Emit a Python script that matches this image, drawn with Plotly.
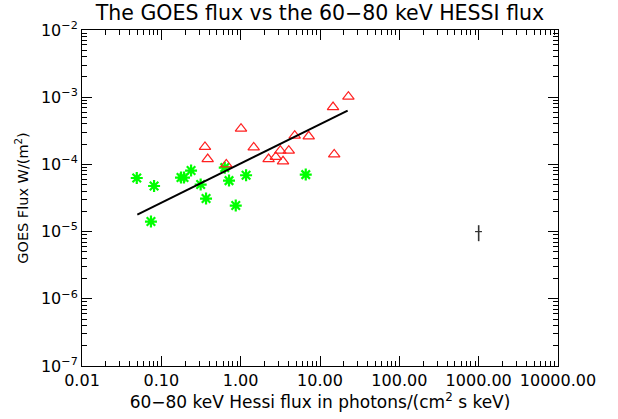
import plotly.graph_objects as go

# Data
green_x = [0.049, 0.081, 0.074, 0.177, 0.193, 0.237, 0.313, 0.366, 0.63, 0.713, 0.867, 1.17, 6.61]
green_y = [6.28e-5, 4.77e-5, 1.41e-5, 6.37e-5, 6.37e-5, 8.09e-5, 5.01e-5, 3.10e-5, 8.95e-5, 5.74e-5, 2.44e-5, 6.89e-5, 7.05e-5]

red_x = [0.355, 0.384, 0.659, 1.01, 1.46, 2.25, 2.77, 3.16, 3.42, 4.04, 4.80, 7.21, 14.6, 15.1, 22.8]
red_y = [1.82e-4, 1.20e-4, 1.00e-4, 3.40e-4, 1.79e-4, 1.20e-4, 1.29e-4, 1.60e-4, 1.11e-4, 1.60e-4, 2.68e-4, 2.62e-4, 7.13e-4, 1.41e-4, 1.02e-3]

fit_x = [0.0498, 22.3]
fit_y = [1.79e-5, 6.3e-4]

err_x = [1000.0]
err_y = [1.0e-5]
err_y_plus = [2.45e-6]
err_y_minus = [2.8e-6]
err_x_half = [100.0]

x_tickvals = [0.01, 0.1, 1, 10, 100, 1000, 10000]
x_ticktext = ["0.01", "0.10", "1.00", "10.00", "100.00", "1000.00", "10000.00"]
y_tickvals = [1e-7, 1e-6, 1e-5, 1e-4, 1e-3, 1e-2]
y_ticktext = ["10<sup>−7</sup>", "10<sup>−6</sup>", "10<sup>−5</sup>", "10<sup>−4</sup>", "10<sup>−3</sup>", "10<sup>−2</sup>"]

x_minor = [m * 10.0 ** e for e in range(-2, 4) for m in range(2, 10)]
y_minor = [m * 10.0 ** e for e in range(-7, -2) for m in range(2, 10)]

FONT = "DejaVu Sans"

fig = go.Figure()
fig.add_trace(go.Scatter(x=green_x, y=green_y, mode="markers",
                         marker=dict(symbol="asterisk-open", size=10, color="#00ff00",
                                     line=dict(color="#00ff00", width=2.2))))
fig.add_trace(go.Scatter(x=red_x, y=red_y, mode="markers",
                         marker=dict(symbol="triangle-up-open", size=10, color="#ff2020",
                                     line=dict(color="#ff2020", width=1.2))))
fig.add_trace(go.Scatter(x=fit_x, y=fit_y, mode="lines",
                         line=dict(color="black", width=2)))
fig.add_trace(go.Scatter(x=err_x, y=err_y, mode="markers",
                         marker=dict(size=1, color="black", opacity=0),
                         error_y=dict(type="data", array=err_y_plus, arrayminus=err_y_minus,
                                      symmetric=False, color="#333333", thickness=1.6, width=0),
                         error_x=dict(type="data", array=err_x_half, color="#333333",
                                      thickness=1.2, width=0)))

axis_common = dict(type="log", showgrid=False, zeroline=False, showline=True,
                   linecolor="black", linewidth=1, mirror="allticks", automargin=False,
                   ticks="inside", ticklen=10, tickwidth=1, tickcolor="black",
                   tickfont=dict(family=FONT, size=16, color="black"))

fig.update_layout(
    width=618, height=419,
    margin=dict(l=82, r=60, t=29.5, b=53),
    paper_bgcolor="white", plot_bgcolor="white",
    showlegend=False,
    title=dict(text="The GOES flux vs the 60−80 keV HESSI flux",
               font=dict(family=FONT, size=20.5, color="black"),
               x=320 / 618, xanchor="center", y=1 - 13 / 419, yanchor="middle"),
    xaxis=dict(axis_common, range=[-2, 4], tickvals=x_tickvals, ticktext=x_ticktext,
               minor=dict(ticks="inside", ticklen=5, tickwidth=1, tickcolor="black",
                          showgrid=False, tickvals=x_minor),
               title=dict(text="60−80 keV Hessi flux in photons/(cm<sup>2</sup> s keV)",
                          font=dict(family=FONT, size=17, color="black"), standoff=4)),
    yaxis=dict(axis_common, range=[-7, -2], tickvals=y_tickvals, ticktext=y_ticktext,
               minor=dict(ticks="inside", ticklen=5, tickwidth=1, tickcolor="black",
                          showgrid=False, tickvals=y_minor),
               title=dict(text="GOES Flux W/(m<sup>2</sup>)",
                          font=dict(family=FONT, size=14.5, color="black"), standoff=8)),
)

fig.write_html("out.html", config={"displayModeBar": False},
               post_script="document.body.style.margin='0px';")
